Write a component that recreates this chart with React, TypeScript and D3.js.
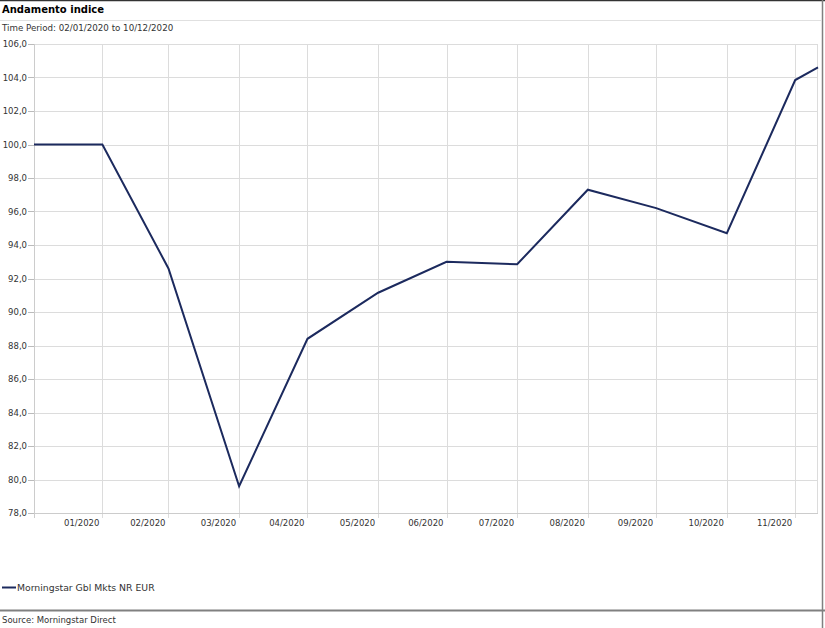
import React from "react";
import * as d3 from "d3";

const dates = ["2020-01-01","2020-01-31","2020-02-29","2020-03-31","2020-04-30","2020-05-31","2020-06-30","2020-07-31","2020-08-31","2020-09-30","2020-10-31","2020-11-30","2020-12-10"];
const values = [100.0, 100.0, 92.6, 79.6, 88.4, 91.15, 93.0, 92.85, 97.3, 96.2, 94.7, 103.85, 104.6];
const xTickDates = ["2020-01-31","2020-02-29","2020-03-31","2020-04-30","2020-05-31","2020-06-30","2020-07-31","2020-08-31","2020-09-30","2020-10-31","2020-11-30"];
const xTickLabels = ["01/2020","02/2020","03/2020","04/2020","05/2020","06/2020","07/2020","08/2020","09/2020","10/2020","11/2020"];
const yTicks = [78, 80, 82, 84, 86, 88, 90, 92, 94, 96, 98, 100, 102, 104, 106];
const seriesName = "Morningstar Gbl Mkts NR EUR";
const title = "Andamento indice";
const subtitle = "Time Period: 02/01/2020 to 10/12/2020";
const source = "Source: Morningstar Direct";

const W = 825, H = 628;
const L = 34, R = 818, T = 44, B = 513;
const FONT = "Verdana, 'DejaVu Sans', sans-serif";
const LINE = "#1c2a5e";
const GRID = "#dcdcdc";
const TXT = "#333";

export default function App() {
  const parse = d3.utcParse("%Y-%m-%d");
  const x = d3.scaleUtc().domain([parse("2020-01-01")!, parse("2020-12-10")!]).range([L, R]);
  const y = d3.scaleLinear().domain([78, 106]).range([B, T]);
  const pts = dates.map((d, i) => [x(parse(d)!), y(values[i])] as [number, number]);
  const path = d3.line()(pts) || "";
  const fmt = (v: number) => v.toFixed(1).replace(".", ",");
  const xt = xTickDates.map((d) => x(parse(d)!));

  return (
    <div style={{ position: "absolute", left: 0, top: 0 }}>
      <svg width={W} height={H} style={{ display: "block", fontFamily: FONT }}>
        <rect x={0} y={0} width={W} height={H} fill="#fff" />
        <line x1={0} x2={W} y1={0.5} y2={0.5} stroke="#333" strokeWidth={1.5} />
        <line x1={822.5} x2={822.5} y1={0} y2={H} stroke="#808080" strokeWidth={1.5} />
        <text x={2} y={13} fontSize={10} fontWeight="bold" fill="#000">{title}</text>
        <line x1={0} x2={822} y1={20.5} y2={20.5} stroke="#e0e0e0" strokeWidth={1} />
        <text x={2} y={30.5} fontSize={8.7} fill={TXT}>{subtitle}</text>

        {yTicks.map((v) => (
          <g key={v}>
            <line x1={L} x2={R} y1={Math.round(y(v)) + 0.5} y2={Math.round(y(v)) + 0.5} stroke={GRID} />
            <line x1={L - 6} x2={L} y1={Math.round(y(v)) + 0.5} y2={Math.round(y(v)) + 0.5} stroke="#bbb" />
            <text x={L - 7} y={y(v) + 3} fontSize={8.5} textAnchor="end" fill={TXT}>{fmt(v)}</text>
          </g>
        ))}
        {xt.map((px, i) => (
          <g key={i}>
            <line x1={Math.round(px) + 0.5} x2={Math.round(px) + 0.5} y1={T} y2={B + 5} stroke={GRID} />
            <text x={px - 3} y={526} fontSize={8.5} textAnchor="end" fill={TXT}>{xTickLabels[i]}</text>
          </g>
        ))}
        <line x1={R - 0.5} x2={R - 0.5} y1={T} y2={B} stroke={GRID} />
        <line x1={L + 0.5} x2={L + 0.5} y1={T} y2={B + 5} stroke="#ccc" />
        <line x1={L} x2={R} y1={B + 0.5} y2={B + 0.5} stroke="#ccc" />

        <path d={path} fill="none" stroke={LINE} strokeWidth={2} strokeLinejoin="miter" />

        <line x1={2} x2={16} y1={587.5} y2={587.5} stroke={LINE} strokeWidth={2} />
        <text x={17} y={591} fontSize={9.3} fill={TXT}>{seriesName}</text>

        <line x1={0} x2={W} y1={610.5} y2={610.5} stroke="#808080" strokeWidth={2} />
        <text x={2} y={623} fontSize={8.5} fill={TXT}>{source}</text>
      </svg>
    </div>
  );
}
